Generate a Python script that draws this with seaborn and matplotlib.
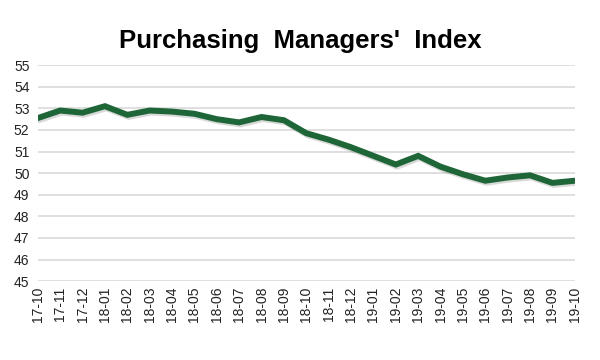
import matplotlib
matplotlib.use("Agg")
import matplotlib.pyplot as plt
import matplotlib.patheffects as pe
import seaborn as sns
import pandas as pd

months = ["17-10", "17-11", "17-12", "18-01", "18-02", "18-03", "18-04",
          "18-05", "18-06", "18-07", "18-08", "18-09", "18-10", "18-11",
          "18-12", "19-01", "19-02", "19-03", "19-04", "19-05", "19-06",
          "19-07", "19-08", "19-09", "19-10"]
pmi = [52.55, 52.9, 52.8, 53.1, 52.7, 52.9, 52.85, 52.75, 52.5, 52.35,
       52.6, 52.45, 51.85, 51.55, 51.2, 50.8, 50.4, 50.8, 50.3, 49.95,
       49.65, 49.8, 49.9, 49.55, 49.65]
y_ticks = list(range(45, 56))

df = pd.DataFrame({"month": months, "pmi": pmi})

sns.set_style("white")
plt.rcParams["font.family"] = ["Liberation Sans", "DejaVu Sans"]

fig = plt.figure(figsize=(6, 3.6), dpi=100)
ax = fig.add_axes([0.063, 0.219, 0.895, 0.6])

sns.lineplot(data=df, x="month", y="pmi", ax=ax, color="#1e6637",
             linewidth=4.3, solid_joinstyle="miter",
             path_effects=[pe.SimpleLineShadow(offset=(1, -1.5), alpha=0.15),
                           pe.Normal()])

ax.set_ylim(45, 55)
ax.set_xlim(0, len(months) - 1)
ax.set_yticks(y_ticks)
ax.yaxis.grid(True, color="#d9d9d9", linewidth=1.2)
ax.set_axisbelow(True)
for s in ax.spines.values():
    s.set_visible(False)
ax.tick_params(axis="both", length=0, labelsize=10, colors="#222222")
ax.tick_params(axis="x", rotation=90, pad=4)
ax.tick_params(axis="y", pad=6)
ax.set_xlabel("")
ax.set_ylabel("")

fig.text(0.5, 0.885, "Purchasing  Managers'  Index", ha="center",
         va="center", fontsize=18.5, fontweight="bold", color="black")

fig.savefig("out.png", dpi=100)
